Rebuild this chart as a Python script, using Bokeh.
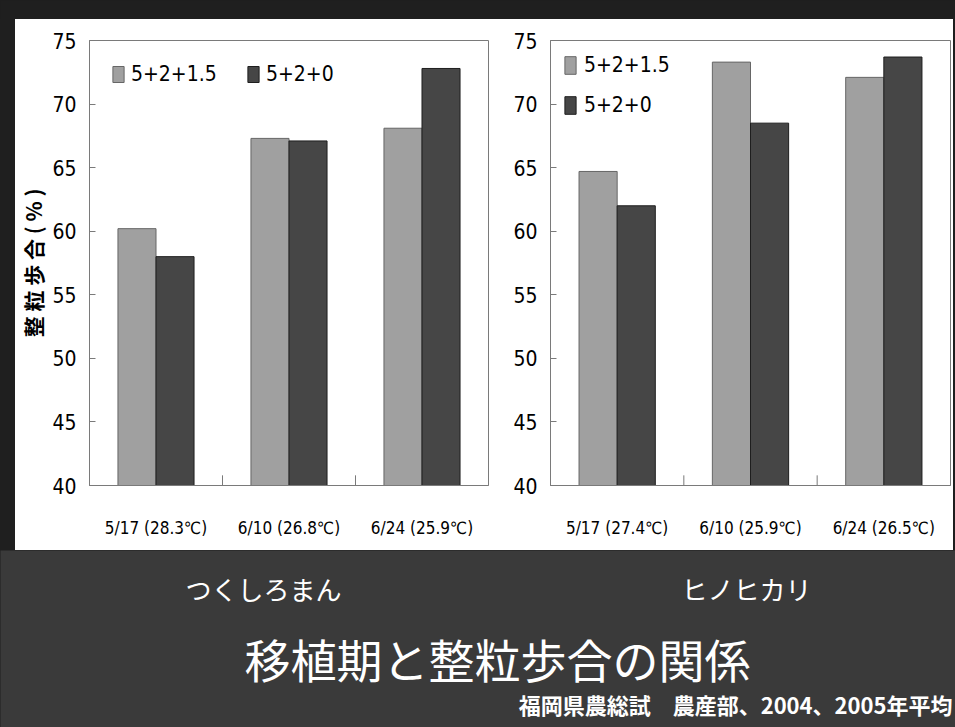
from bokeh.plotting import figure
from bokeh.models import Range1d, FactorRange, Legend, LegendItem, ColumnDataSource
from bokeh.transform import dodge
from bokeh.layouts import column, row
from bokeh.core.properties import value
from bokeh.embed import file_html
from bokeh.resources import INLINE

# ---------------- data ----------------
series_names = ["5+2+1.5", "5+2+0"]
left_dates = ["5/17 (28.3℃)", "6/10 (26.8℃)", "6/24 (25.9℃)"]
left_a = [60.2, 67.3, 68.1]
left_b = [58.0, 67.1, 72.8]
right_dates = ["5/17 (27.4℃)", "6/10 (25.9℃)", "6/24 (26.5℃)"]
right_a = [64.7, 73.3, 72.1]
right_b = [62.0, 68.5, 73.7]
y_ticks = [40, 45, 50, 55, 60, 65, 70, 75]
y_label = "整 粒 歩 合 ( % )"
variety_names = ["つくしろまん", "ヒノヒカリ"]
main_title = "移植期と整粒歩合の関係"
source_note = "福岡県農総試　農産部、2004、2005年平均"

# ---------------- styles ----------------
LIGHT = "#a0a0a0"
DARKBAR = "#464646"
FRAME = "#7a7a7a"
BG_DARK = "#3a3a3a"
STRIP = "#1f1f1f"
NUM_FONT = "DejaVu Sans Condensed"
JP_FONT = "Noto Sans CJK JP"
ROW_H = 531
TOP_H = 19
LEFT_W = 15


def make_chart(dates, a, b, width, bl, br, orientation, with_label):
    p = figure(x_range=FactorRange(*dates), y_range=Range1d(y_ticks[0], y_ticks[-1]),
               width=width, height=ROW_H, title=None,
               output_backend="svg", toolbar_location=None,
               min_border_left=bl, min_border_right=br,
               min_border_top=21, min_border_bottom=65)
    p.background_fill_color = "white"
    p.border_fill_color = "white"
    p.outline_line_color = FRAME
    p.xgrid.visible = False
    p.ygrid.visible = False

    src = ColumnDataSource(dict(x=dates, a=a, b=b))
    ra = p.vbar(x=dodge("x", -0.143, range=p.x_range), top="a", bottom=y_ticks[0],
                width=0.286, source=src, fill_color=LIGHT, line_color="#666666")
    rb = p.vbar(x=dodge("x", 0.143, range=p.x_range), top="b", bottom=y_ticks[0],
                width=0.286, source=src, fill_color=DARKBAR, line_color="#1e1e1e")

    # category separator ticks on the bottom axis
    bounds = list(range(1, len(dates)))
    p.segment(x0=bounds, x1=bounds, y0=[y_ticks[0]] * len(bounds),
              y1=[y_ticks[0] + 0.8] * len(bounds), line_color=FRAME, line_width=1)

    ya = p.yaxis[0]
    ya.ticker = y_ticks
    ya.major_tick_in = 6
    ya.major_tick_out = 0
    ya.minor_tick_in = 0
    ya.minor_tick_out = 0
    ya.major_tick_line_color = FRAME
    ya.axis_line_color = FRAME
    ya.major_label_standoff = 13
    ya.major_label_text_font = NUM_FONT
    ya.major_label_text_font_size = "21px"
    ya.major_label_text_color = "black"
    if with_label:
        ya.axis_label = y_label
        ya.axis_label_text_font = JP_FONT
        ya.axis_label_text_font_style = "bold"
        ya.axis_label_text_font_size = "21px"
        ya.axis_label_text_color = "black"
        ya.axis_label_standoff = 1

    xa = p.xaxis[0]
    xa.major_tick_line_color = None
    xa.major_tick_out = 0
    xa.major_tick_in = 0
    xa.axis_line_color = FRAME
    xa.major_label_standoff = 32
    xa.major_label_text_font = NUM_FONT
    xa.major_label_text_font_size = "17px"
    xa.major_label_text_color = "black"

    leg = Legend(items=[LegendItem(label=series_names[0], renderers=[ra]),
                        LegendItem(label=series_names[1], renderers=[rb])],
                 location="top_left", orientation=orientation)
    leg.border_line_color = None
    leg.background_fill_alpha = 0
    leg.label_text_font = NUM_FONT
    leg.label_text_font_size = "21px"
    leg.label_text_color = "black"
    leg.glyph_width = 14
    leg.padding = 5
    if orientation == "horizontal":
        leg.glyph_height = 20
        leg.margin = 22
        leg.label_standoff = 6
        leg.label_width = 115
        leg.spacing = 0
    else:
        leg.glyph_height = 22
        leg.margin = 13
        leg.label_standoff = 7
        leg.spacing = 16
    p.add_layout(leg)
    return p


def strip(w, h):
    s = figure(width=w, height=h, x_range=Range1d(0, 1), y_range=Range1d(0, 1),
               x_axis_type=None, y_axis_type=None, title=None,
               output_backend="svg", toolbar_location=None, min_border=0)
    s.background_fill_color = STRIP
    s.border_fill_color = STRIP
    s.outline_line_color = None
    s.xgrid.visible = False
    s.ygrid.visible = False
    return s


left = make_chart(left_dates, left_a, left_b, 485, 73, 12, "horizontal", True)
right = make_chart(right_dates, right_a, right_b, 453, 50, 3, "vertical", False)

bottom = figure(width=955, height=727 - TOP_H - ROW_H, x_range=Range1d(0, 955),
                y_range=Range1d(727 - TOP_H - ROW_H, 0), x_axis_type=None, y_axis_type=None,
                title=None, output_backend="svg", toolbar_location=None, min_border=0)
bottom.background_fill_color = BG_DARK
bottom.border_fill_color = BG_DARK
bottom.outline_line_color = None
bottom.xgrid.visible = False
bottom.ygrid.visible = False
bottom.text(x=[263, 746], y=[38, 38], text=variety_names, text_color="white",
            text_font=value(JP_FONT), text_font_size="26px",
            text_align="center", text_baseline="middle")
bottom.text(x=[497], y=[107], text=[main_title], text_color="white",
            text_font=value(JP_FONT), text_font_size="46px",
            text_align="center", text_baseline="middle")
bottom.text(x=[952], y=[153], text=[source_note], text_color="white",
            text_font=value(JP_FONT), text_font_size="22px", text_font_style="bold",
            text_align="right", text_baseline="middle")

charts = row(left, right, styles={
    "background-color": "white",
    "border-left": f"{LEFT_W}px solid {STRIP}",
    "border-right": f"2px solid {STRIP}",
})
layout = column(strip(955, TOP_H), charts, bottom, styles={"background-color": STRIP})

with open("out.html", "w") as f:
    f.write(file_html(layout, INLINE))
